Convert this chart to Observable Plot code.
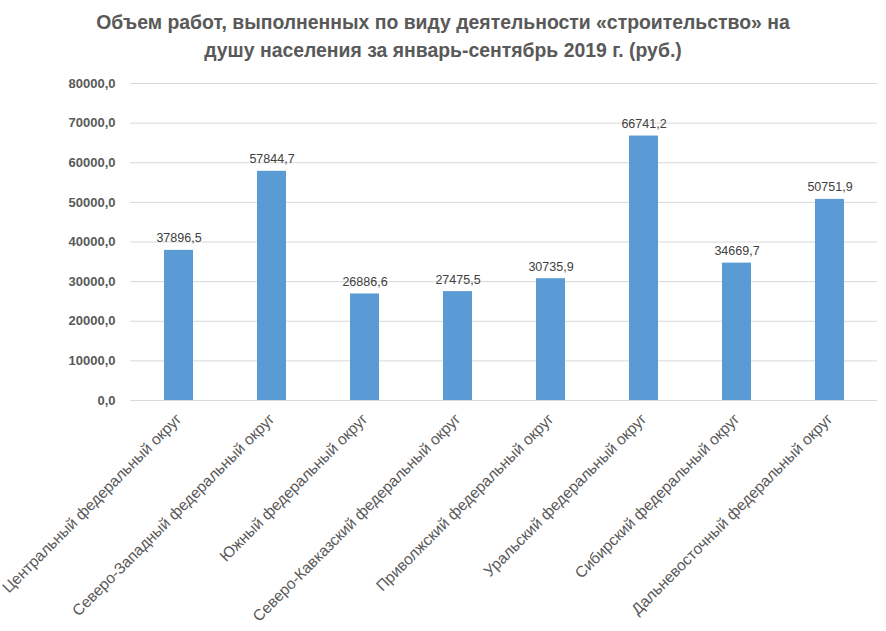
<!DOCTYPE html>
<html>
<head>
<meta charset="utf-8">
<script src="https://cdn.jsdelivr.net/npm/d3@7"></script>
<script src="https://cdn.jsdelivr.net/npm/@observablehq/plot@0.6"></script>
<style>
  body { margin: 0; background: #fff; }
  #title { width: 886px; height: 65px; box-sizing: border-box; padding-top: 8px; text-align: center;
    font-family: "Liberation Sans", Arial, sans-serif; font-weight: bold; font-size: 19.4px; line-height: 28px; color: #595959; }
</style>
</head>
<body>
<div id="title">Объем работ, выполненных по виду деятельности «строительство» на<br>душу населения за январь-сентябрь 2019 г. (руб.)</div>
<div id="chart"></div>
<script>
const districts = [
  "Центральный федеральный округ",
  "Северо-Западный федеральный округ",
  "Южный федеральный округ",
  "Северо-Кавказский федеральный округ",
  "Приволжский федеральный округ",
  "Уральский федеральный округ",
  "Сибирский федеральный округ",
  "Дальневосточный федеральный округ"
];
const values = [37896.5, 57844.7, 26886.6, 27475.5, 30735.9, 66741.2, 34669.7, 50751.9];
const yTicks = [0, 10000, 20000, 30000, 40000, 50000, 60000, 70000, 80000];

const data = districts.map((d, i) => ({district: d, value: values[i]}));
const fmt = v => d3.format(".1f")(v).replace(".", ",");

const chart = Plot.plot({
  width: 886,
  height: 566,
  marginTop: 18,
  marginBottom: 231,
  marginLeft: 130,
  marginRight: 9,
  style: {fontFamily: "Liberation Sans, Arial, sans-serif", background: "#fff"},
  x: {domain: districts, paddingInner: 0.69, paddingOuter: 0.345},
  y: {domain: [0, 80000]},
  marks: [
    Plot.gridY(yTicks, {stroke: "#d9d9d9", strokeOpacity: 1, strokeWidth: 1}),
    Plot.barY(data, {x: "district", y: "value", fill: "#5b9bd5"}),
    Plot.text(data, {x: "district", y: "value", text: d => fmt(d.value), dy: -8, lineAnchor: "bottom", fontSize: 12.5, fill: "#404040"}),
    Plot.axisY({ticks: yTicks, tickFormat: fmt, tickSize: 0, tickPadding: 15, label: null, fontSize: 13, fontWeight: "bold", fill: "#595959"}),
    Plot.axisX({tickSize: 0, tickPadding: 16, tickRotate: -45, label: null, fontSize: 15.5, fill: "#595959"})
  ]
});
document.getElementById("chart").appendChild(chart);
</script>
</body>
</html>
